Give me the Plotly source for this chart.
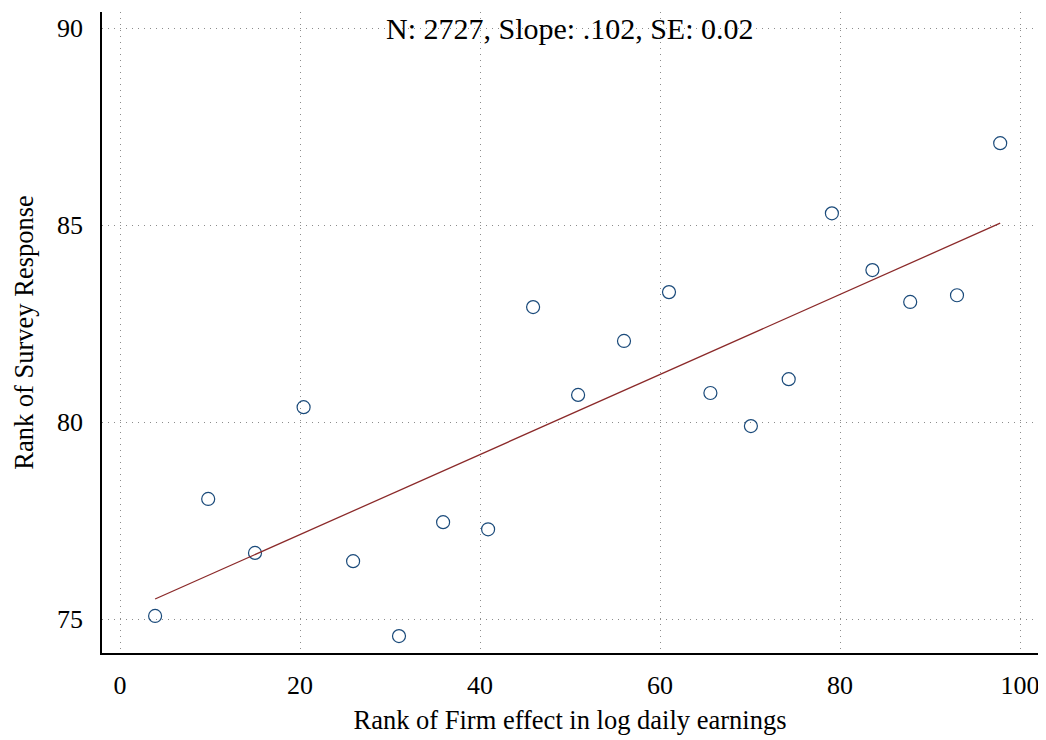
import plotly.graph_objects as go

x_vals = [3.9, 9.8, 15.0, 20.4, 25.9, 31.0, 35.9, 40.9, 45.9, 50.9,
          56.0, 61.0, 65.6, 70.1, 74.3, 79.1, 83.6, 87.8, 93.0, 97.8]
y_vals = [75.08, 78.05, 76.68, 80.38, 76.47, 74.57, 77.46, 77.28, 82.92, 80.69,
          82.06, 83.30, 80.74, 79.90, 81.09, 85.30, 83.86, 83.05, 83.22, 87.08]
fit_x = [3.9, 97.8]
fit_y = [75.51, 85.05]
x_ticks = [0, 20, 40, 60, 80, 100]
y_ticks = [75, 80, 85, 90]
label = "N: 2727, Slope: .102, SE: 0.02"

FONT = "Liberation Serif"

fig = go.Figure()
fig.add_trace(go.Scatter(x=x_vals, y=y_vals, mode="markers",
                         marker=dict(symbol="circle-open", size=13, color="#1a4a7a",
                                     line=dict(width=1.2, color="#1a4a7a")),
                         showlegend=False, cliponaxis=False))
fig.add_trace(go.Scatter(x=fit_x, y=fit_y, mode="lines",
                         line=dict(color="#8b2a2a", width=1.3), showlegend=False))

fig.add_annotation(x=50, y=90, text=label, showarrow=False,
                   font=dict(family=FONT, size=30, color="black"),
                   xanchor="center", yanchor="middle")

# page body has an 8px default margin, so the figure is offset by (8, 8)
fig.update_layout(
    width=1038, height=732,
    margin=dict(l=94, r=8, t=4, b=87),
    plot_bgcolor="white", paper_bgcolor="white",
    font=dict(family=FONT, size=26, color="black"),
)
fig.update_xaxes(range=[-2.0, 102.0], tickvals=x_ticks, showgrid=True,
                 gridcolor="#8c8c8c", griddash="1px,5px", gridwidth=1,
                 showline=True, linecolor="black", linewidth=1.5, zeroline=False,
                 ticks="outside", ticklen=8, tickcolor="rgba(0,0,0,0)", automargin=False,
                 title=dict(text="Rank of Firm effect in log daily earnings",
                            font=dict(size=26.5), standoff=11),
                 tickfont=dict(size=26))
fig.update_yaxes(range=[74.14, 90.41], tickvals=y_ticks, showgrid=True,
                 gridcolor="#8c8c8c", griddash="1px,5px", gridwidth=1,
                 showline=True, linecolor="black", linewidth=1.5, zeroline=False,
                 ticks="outside", ticklen=12, tickcolor="rgba(0,0,0,0)", automargin=False,
                 title=dict(text="Rank of Survey Response", font=dict(size=26.5), standoff=16),
                 tickfont=dict(size=26))

fig.write_html("out.html")
